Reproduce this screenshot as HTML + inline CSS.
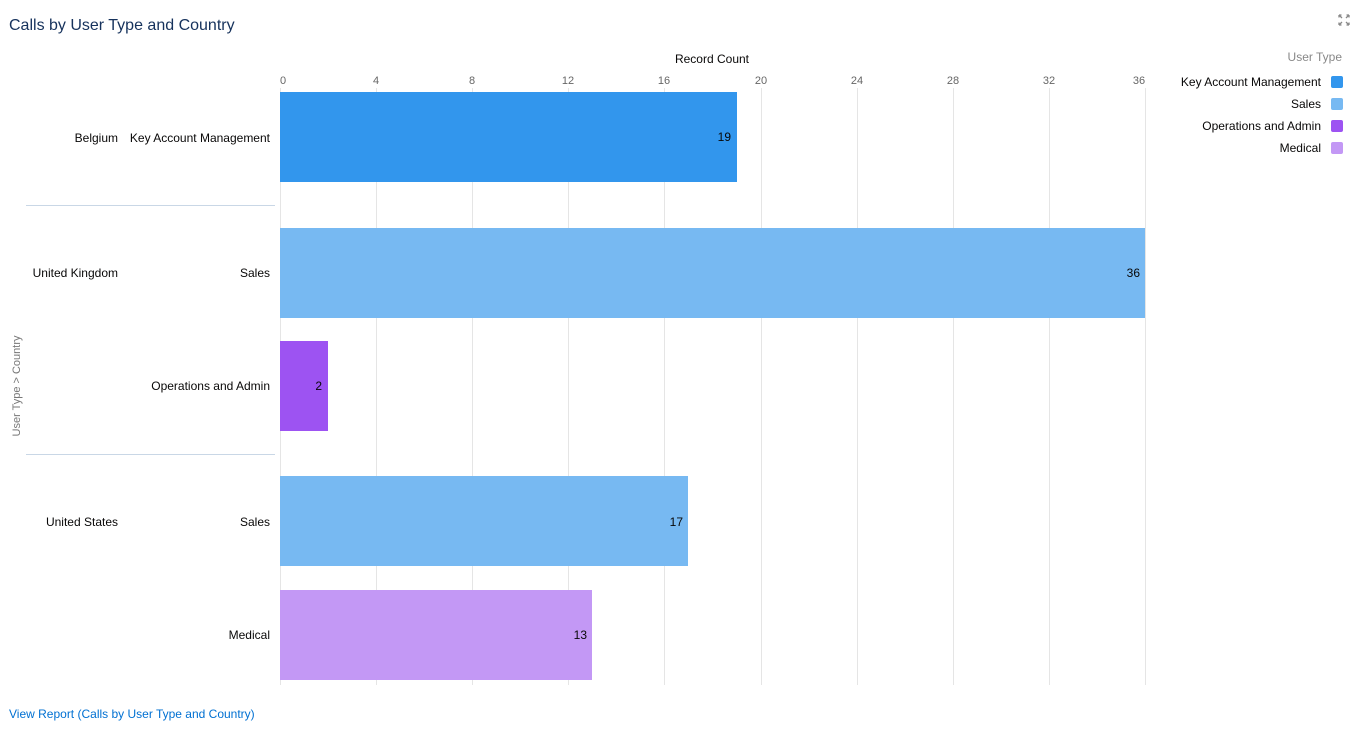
<!DOCTYPE html>
<html><head><meta charset="utf-8"><style>
body{margin:0;background:#fff;font-family:"Liberation Sans",Arial,sans-serif;}
</style></head><body>
<svg width="1363" height="733" xmlns="http://www.w3.org/2000/svg" font-family="Liberation Sans, Arial, sans-serif">
<rect width="1363" height="733" fill="#fff"/>
<text x="9" y="30" font-size="16" fill="#16325c">Calls by User Type and Country</text>
<g stroke="#888" stroke-width="1.3" fill="none">
<path d="M1339 15 l3 3 M1339 15 h2.5 M1339 15 v2.5"/>
<path d="M1349 15 l-3 3 M1349 15 h-2.5 M1349 15 v2.5"/>
<path d="M1339 25 l3 -3 M1339 25 h2.5 M1339 25 v-2.5"/>
<path d="M1349 25 l-3 -3 M1349 25 h-2.5 M1349 25 v-2.5"/>
</g>
<text x="712" y="63" font-size="12" fill="#080707" text-anchor="middle">Record Count</text>
<g stroke="#e5e5e5" stroke-width="1">
<line x1="376.5" y1="88" x2="376.5" y2="685"/><line x1="472.5" y1="88" x2="472.5" y2="685"/>
<line x1="568.5" y1="88" x2="568.5" y2="685"/><line x1="664.5" y1="88" x2="664.5" y2="685"/>
<line x1="761.5" y1="88" x2="761.5" y2="685"/><line x1="857.5" y1="88" x2="857.5" y2="685"/>
<line x1="953.5" y1="88" x2="953.5" y2="685"/><line x1="1049.5" y1="88" x2="1049.5" y2="685"/>
<line x1="1145.5" y1="88" x2="1145.5" y2="685"/><line x1="280.5" y1="88" x2="280.5" y2="685"/>
</g>
<g font-size="11" fill="#666" text-anchor="middle">
<text x="283" y="84">0</text><text x="376" y="84">4</text><text x="472" y="84">8</text><text x="568" y="84">12</text><text x="664" y="84">16</text><text x="761" y="84">20</text><text x="857" y="84">24</text><text x="953" y="84">28</text><text x="1049" y="84">32</text><text x="1139" y="84">36</text>
</g>
<rect x="280" y="92" width="457" height="90" fill="#3296ed"/>
<rect x="280" y="228" width="865" height="90" fill="#77b9f2"/>
<rect x="280" y="341" width="48" height="90" fill="#9d53f2"/>
<rect x="280" y="476" width="408" height="90" fill="#77b9f2"/>
<rect x="280" y="590" width="312" height="90" fill="#c398f5"/>
<g font-size="12" fill="#080707" text-anchor="end">
<text x="731" y="141">19</text><text x="1140" y="277">36</text><text x="322" y="390">2</text><text x="683" y="526">17</text><text x="587" y="639">13</text>
<text x="270" y="142">Key Account Management</text>
<text x="270" y="277">Sales</text>
<text x="270" y="390">Operations and Admin</text>
<text x="270" y="526">Sales</text>
<text x="270" y="639">Medical</text>
<text x="118" y="142">Belgium</text>
<text x="118" y="277">United Kingdom</text>
<text x="118" y="526">United States</text>
</g>
<g stroke="#c9d7e6"><line x1="26" y1="205.5" x2="275" y2="205.5"/><line x1="26" y1="454.5" x2="275" y2="454.5"/></g>
<text transform="translate(20,386) rotate(-90)" font-size="11" fill="#777" text-anchor="middle">User Type  &gt;  Country</text>
<text x="1342" y="61" font-size="12" fill="#888" text-anchor="end">User Type</text>
<g font-size="12" fill="#080707" text-anchor="end">
<text x="1321" y="86">Key Account Management</text><text x="1321" y="108">Sales</text>
<text x="1321" y="130">Operations and Admin</text><text x="1321" y="152">Medical</text>
</g>
<rect x="1331" y="76" width="12" height="12" rx="2" fill="#3296ed"/>
<rect x="1331" y="98" width="12" height="12" rx="2" fill="#77b9f2"/>
<rect x="1331" y="120" width="12" height="12" rx="2" fill="#9d53f2"/>
<rect x="1331" y="142" width="12" height="12" rx="2" fill="#c398f5"/>
<text x="9" y="718" font-size="12" fill="#0070d2">View Report (Calls by User Type and Country)</text>
</svg>
</body></html>
